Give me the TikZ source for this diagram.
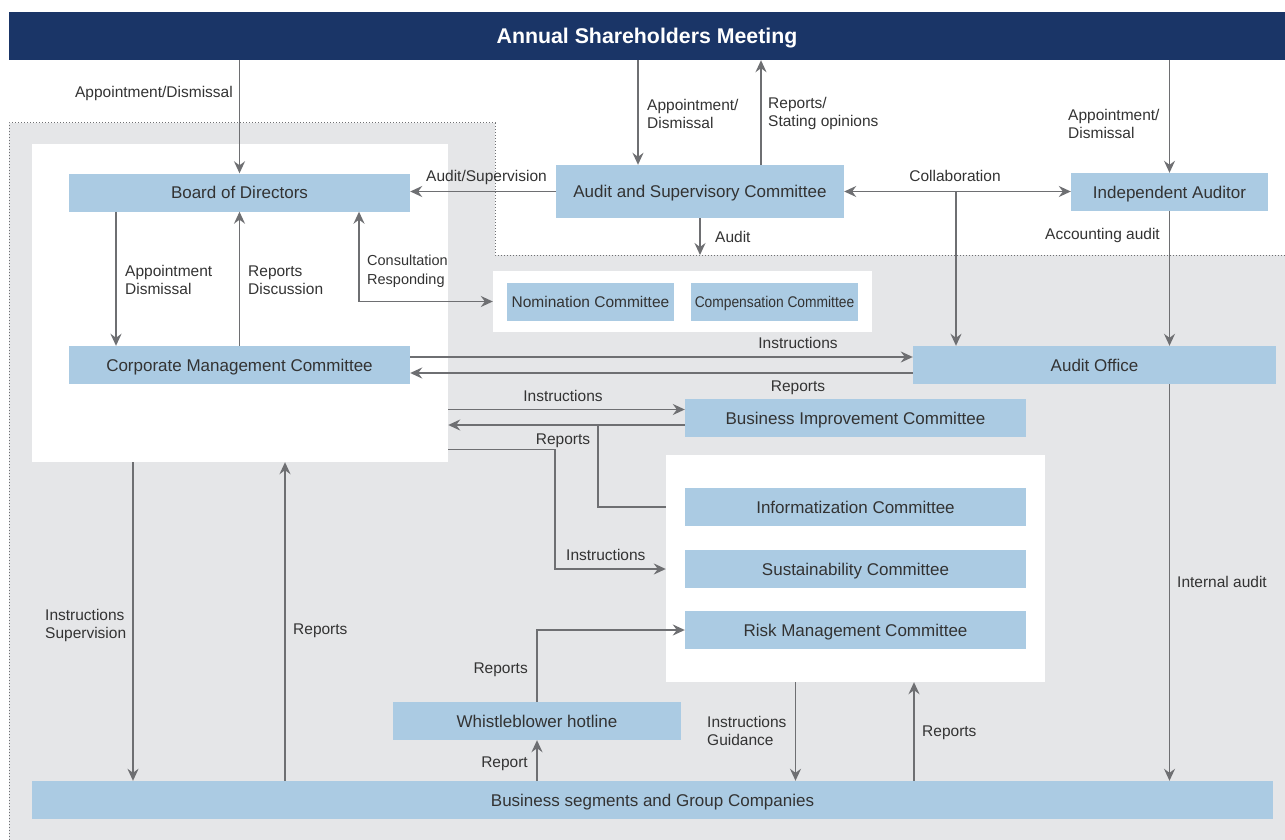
\documentclass[tikz,border=0pt]{standalone}
\usepackage{fontspec}
\setmainfont{Liberation Sans}
\usetikzlibrary{arrows.meta,positioning}
\definecolor{navy}{HTML}{1A3567}
\definecolor{boxblue}{HTML}{ABCBE3}
\definecolor{zonegray}{HTML}{E5E6E8}
\definecolor{linegray}{HTML}{6E6F72}
\definecolor{ink}{HTML}{333333}
\tikzset {>=Stealth}
\tikzset{
  unit/.style={fill=boxblue,text=ink,inner sep=0pt,minimum height=38pt,text height=12.2pt,text depth=0pt,font=\fontsize{17}{20}\selectfont},
  panel/.style={fill=white,inner sep=0pt},
  lbl/.style={text=ink,inner sep=0pt,align=left,font=\fontsize{15.5}{18}\selectfont},
  one/.style={text height=11.2pt,text depth=0pt},
  flow/.style={draw=linegray,line width=1.6pt,->,>={Stealth[length=12pt,width=11pt,inset=4pt]}},
  link/.style={draw=linegray,line width=1.6pt}
}

\begin{document}
\begin{tikzpicture}[x=1pt,y=-1pt]
\useasboundingbox (0,0) rectangle (1285,840);
% grey zone
\fill[zonegray] (9,123) -- (495,123) -- (495,255) -- (1285,255) -- (1285,840) -- (9,840) -- cycle;
\draw[linegray,line width=1pt,dotted] (9,840) -- (9,123) -- (495,123) -- (495,255) -- (1285,255);
\coordinate (notch) at (495,255);
% white panels
\node[panel,minimum width=416pt,minimum height=318pt] (lpanel) at (240,303) {};
\node[panel,minimum width=379pt,minimum height=61pt] (nompanel) at (682.5,301.5) {};
\node[panel,minimum width=379pt,minimum height=227pt] (rpanel) at (855.5,568.5) {};
% boxes
\node[unit,fill=navy,text=white,minimum width=1276pt,minimum height=48pt,text height=15.3pt,font=\bfseries\fontsize{21.3}{24}\selectfont] (gsm) at (647,36) {Annual Shareholders Meeting};
\node[unit,minimum width=341pt] (bod) at (239.5,192.5) {Board of Directors};
\node[unit,minimum width=288pt,minimum height=53pt] (asc) at (700,191.5) {Audit and Supervisory Committee};
\node[unit,minimum width=197pt] (ia) at (1169.5,192) {Independent Auditor};
\node[unit,minimum width=167pt,text height=11.2pt,font=\fontsize{15.5}{18}\selectfont] (nom) at (590.5,302) {Nomination Committee};
\node[unit,minimum width=167pt,text height=11.2pt,font=\fontsize{15.5}{18}\selectfont] (comp) at (774.5,302) {\scalebox{0.89}[1]{Compensation Committee}};
\node[unit,minimum width=341pt] (cmc) at (239.5,365) {Corporate Management Committee};
\node[unit,minimum width=363pt] (ao) at (1094.5,365) {Audit Office};
\node[unit,minimum width=341pt] (bic) at (855.5,418) {Business Improvement Committee};
\node[unit,minimum width=341pt] (info) at (855.5,507) {Informatization Committee};
\node[unit,minimum width=341pt] (sust) at (855.5,569) {Sustainability Committee};
\node[unit,minimum width=341pt] (risk) at (855.5,630) {Risk Management Committee};
\node[unit,minimum width=288pt] (wb) at (537,721) {Whistleblower hotline};
\node[unit,minimum width=1241pt] (bsg) at (652.5,800) {Business segments and Group Companies};
% top connectors
\draw[flow] (gsm.south -| bod.north) -- (bod.north);
\draw[flow] ([xshift=-62pt]asc.north |- gsm.south) -- ([xshift=-62pt]asc.north);
\draw[flow] ([xshift=61pt]asc.north) -- ([xshift=61pt]asc.north |- gsm.south);
\draw[flow] (gsm.south -| ia.north) -- (ia.north);
\draw[flow] (asc.west) -- (asc.west -| bod.east);
\draw[flow,<->] (asc.east) -- (asc.east -| ia.west);
\coordinate (split) at (956,191.5);
\draw[flow] (split) -- (split |- ao.north);
\draw[flow] (ia.south) -- (ia.south |- ao.north);
\draw[flow] (asc.south) -- (asc.south |- notch);
% board and management
\draw[flow] ([xshift=-123.5pt]bod.south) -- ([xshift=-123.5pt]cmc.north);
\draw[flow] (cmc.north) -- (bod.south);
\draw[flow,<->] ([xshift=119.5pt]bod.south) |- (nompanel.west);
\draw[flow] ([yshift=8pt]cmc.east) -- ([yshift=8pt]cmc.east -| ao.west);
\draw[flow] ([yshift=-8pt]cmc.east -| ao.west) -- ([yshift=-8pt]cmc.east);
\draw[flow] ([yshift=8.5pt]bic.west -| lpanel.east) -- ([yshift=8.5pt]bic.west);
\draw[flow] ([yshift=-7pt]bic.west) -- ([yshift=-7pt]bic.west -| lpanel.east);
\coordinate (join) at (598,425);
\draw[link] (rpanel.west |- info.west) -| (join);
\coordinate (bend) at (555,449.5);
\draw[flow] (lpanel.east |- bend) -- (bend) |- (rpanel.west |- sust.west);
% lower connectors
\draw[flow] (wb.north) |- (risk.west);
\draw[flow] (bsg.north -| wb.south) -- (wb.south);
\draw[flow] ([xshift=-107pt]lpanel.south) -- ([xshift=-107pt]lpanel.south |- bsg.north);
\draw[flow] ([xshift=45pt]lpanel.south |- bsg.north) -- ([xshift=45pt]lpanel.south);
\draw[flow] ([xshift=-60pt]rpanel.south) -- ([xshift=-60pt]rpanel.south |- bsg.north);
\draw[flow] ([xshift=58.5pt]rpanel.south |- bsg.north) -- ([xshift=58.5pt]rpanel.south);
\draw[flow] (ao.south -| ia.south) -- (ia.south |- bsg.north);
% labels
\node[lbl,one,anchor=east] (l1) at (233,92) {Appointment/Dismissal};
\node[lbl,anchor=west] (l2) at (647,113.5) {Appointment/\\Dismissal};
\node[lbl,anchor=west] (l3) at (768,113.5) {Reports/\\Stating opinions};
\node[lbl,anchor=west] (l4) at (1068,124) {Appointment/\\Dismissal};
\node[lbl,one,anchor=west] (l5) at (426,176) {Audit/Supervision};
\node[lbl,one] (l6) at (955,176) {Collaboration};
\node[lbl,one,anchor=west] (l7) at (715,237) {Audit};
\node[lbl,one,anchor=east] (l8) at (1160,234) {Accounting audit};
\node[lbl,anchor=west] (l9) at (125,280) {Appointment\\Dismissal};
\node[lbl,anchor=west] (l10) at (248,280) {Reports\\Discussion};
\node[lbl,anchor=west,font=\fontsize{14.5}{19}\selectfont] (l11) at (367,271.5) {Consultation\\Responding};
\node[lbl,one] (l12) at (798,343) {Instructions};
\node[lbl,one] (l13) at (798,386) {Reports};
\node[lbl,one] (l14) at (563,396) {Instructions};
\node[lbl,one] (l15) at (563,439) {Reports};
\node[lbl,one,anchor=west] (l16) at (566,555) {Instructions};
\node[lbl,one,anchor=east] (l17) at (528,668) {Reports};
\node[lbl,one,anchor=east] (l18) at (528,762) {Report};
\node[lbl,anchor=west] (l19) at (45,625) {Instructions\\Supervision};
\node[lbl,one,anchor=west] (l20) at (293,629) {Reports};
\node[lbl,anchor=west] (l21) at (707,730.5) {Instructions\\Guidance};
\node[lbl,one,anchor=west] (l22) at (922,731) {Reports};
\node[lbl,one,anchor=west] (l23) at (1177,582) {Internal audit};
\end{tikzpicture}
\end{document}
